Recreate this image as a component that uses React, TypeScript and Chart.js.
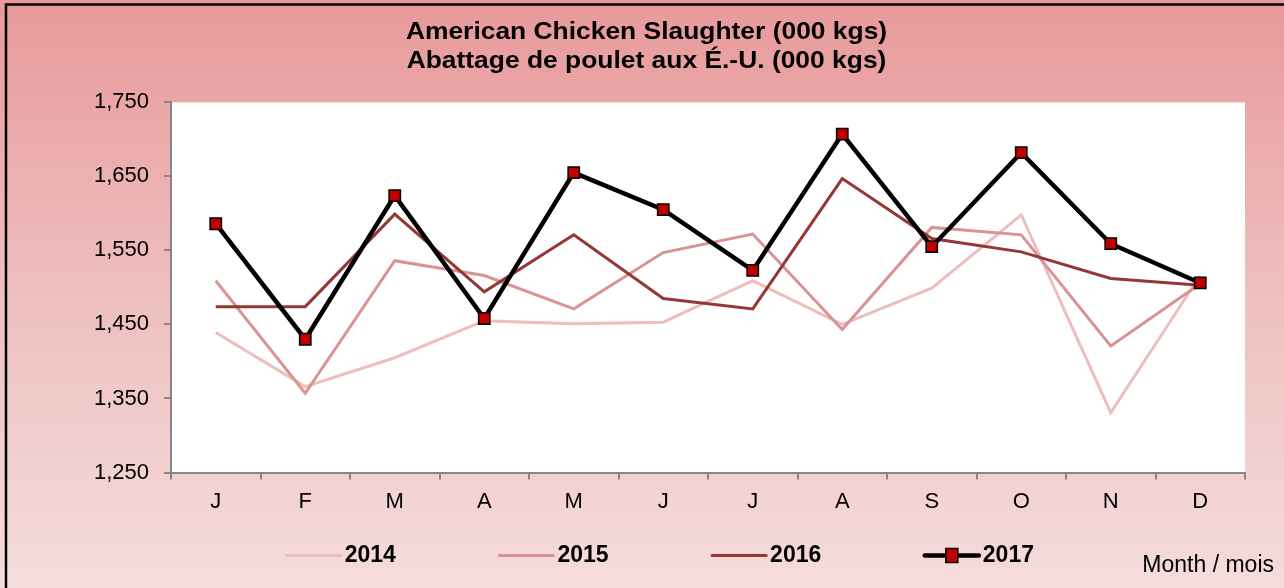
import React, { useEffect, useRef } from "react";
import { Chart, registerables } from "chart.js";

Chart.register(...registerables);

const months = ["J", "F", "M", "A", "M", "J", "J", "A", "S", "O", "N", "D"];
const years = ["2014", "2015", "2016", "2017"];
const s2014 = [1439, 1366, 1405, 1455, 1451, 1453, 1509, 1450, 1499, 1598, 1331, 1516];
const s2015 = [1509, 1357, 1536, 1516, 1471, 1547, 1572, 1443, 1581, 1571, 1421, 1505];
const s2016 = [1474, 1474, 1599, 1494, 1571, 1485, 1471, 1647, 1566, 1548, 1512, 1503];
const s2017 = [1586, 1430, 1624, 1458, 1655, 1605, 1523, 1707, 1555, 1682, 1559, 1506];
const titleLines = ["American Chicken Slaughter (000 kgs)", "Abattage de poulet aux É.-U. (000 kgs)"];
const xAxisTitle = "Month / mois";
const yMin = 1250;
const yMax = 1750;
const yStep = 100;

const FONT = '"Liberation Sans", Arial, sans-serif';
const W = 1284;
const H = 588;

const decorPlugin = {
  id: "decor",
  beforeDraw(chart: any) {
    const ctx = chart.ctx;
    const ca = chart.chartArea;
    ctx.save();
    const g = ctx.createLinearGradient(0, 0, 0, H);
    g.addColorStop(0, "#E8999A");
    g.addColorStop(0.5, "#EEBFBF");
    g.addColorStop(1, "#F5DCDC");
    ctx.fillStyle = g;
    ctx.fillRect(0, 0, W, H);
    ctx.strokeStyle = "#000";
    ctx.lineWidth = 2.5;
    ctx.strokeRect(6, 4.5, W + 20, H + 20);
    ctx.fillStyle = "#FFFFFF";
    ctx.fillRect(ca.left, ca.top, ca.right - ca.left, ca.bottom - ca.top);
    ctx.restore();
  },
  afterDraw(chart: any) {
    const ctx = chart.ctx;
    ctx.save();
    // title
    ctx.fillStyle = "#000";
    ctx.font = `bold 24px ${FONT}`;
    ctx.textAlign = "center";
    ctx.textBaseline = "alphabetic";
    const baselines = [38.7, 68];
    titleLines.forEach((t, i) => {
      ctx.save();
      ctx.translate(646.5, baselines[i]);
      ctx.scale(1.1, 1);
      ctx.fillText(t, 0, 0);
      ctx.restore();
    });
    // legend
    const ly = 555.5;
    chart.data.datasets.forEach((ds: any, i: number) => {
      const x0 = 286.7 + i * 212.7;
      ctx.strokeStyle = ds.borderColor;
      ctx.lineWidth = ds.borderWidth;
      ctx.lineCap = "round";
      ctx.beginPath();
      ctx.moveTo(x0, ly);
      ctx.lineTo(x0 + 54, ly);
      ctx.stroke();
      if (ds.pointRadius > 0) {
        const s = 6;
        ctx.fillStyle = ds.pointBackgroundColor;
        ctx.fillRect(x0 + 27 - s, ly - s - 1, 2 * s, 2 * s + 2);
        ctx.strokeStyle = ds.pointBorderColor;
        ctx.lineWidth = 1.5;
        ctx.strokeRect(x0 + 27 - s, ly - s - 1, 2 * s, 2 * s + 2);
      }
      ctx.fillStyle = "#000";
      ctx.font = `bold 23px ${FONT}`;
      ctx.textAlign = "left";
      ctx.textBaseline = "middle";
      ctx.fillText(ds.label, x0 + 58, ly + 0.5);
    });
    // x axis title
    ctx.font = `23px ${FONT}`;
    ctx.textAlign = "right";
    ctx.textBaseline = "middle";
    ctx.fillStyle = "#000";
    ctx.fillText(xAxisTitle, 1274, 565.5);
    ctx.restore();
  },
};

export default function App() {
  const ref = useRef<HTMLCanvasElement>(null);
  useEffect(() => {
    if (!ref.current) return;
    const axisColor = "#878787";
    const chart = new Chart(ref.current, {
      type: "line",
      data: {
        labels: months,
        datasets: [
          { label: years[0], data: s2014, borderColor: "#ECBEBE", backgroundColor: "#ECBEBE", borderWidth: 3, pointRadius: 0, order: 4 },
          { label: years[1], data: s2015, borderColor: "#DA9393", backgroundColor: "#DA9393", borderWidth: 3, pointRadius: 0, order: 3 },
          { label: years[2], data: s2016, borderColor: "#953735", backgroundColor: "#953735", borderWidth: 3, pointRadius: 0, order: 2 },
          {
            label: years[3], data: s2017, borderColor: "#000000", backgroundColor: "#C00000", borderWidth: 4.5,
            pointStyle: "rect", pointRadius: 8, pointBackgroundColor: "#C00000", pointBorderColor: "#000000", pointBorderWidth: 1.5, order: 1,
          },
        ] as any,
      },
      options: {
        animation: false,
        responsive: false,
        devicePixelRatio: 1,
        layout: { padding: { left: 0, top: 102.3, right: 39, bottom: 0 } },
        plugins: { legend: { display: false }, title: { display: false }, tooltip: { enabled: false } },
        elements: { line: { tension: 0 } },
        scales: {
          x: {
            offset: true,
            grid: { offset: true, drawOnChartArea: false, drawTicks: true, tickLength: 7, color: axisColor, lineWidth: 2 },
            border: { display: true, color: axisColor, width: 2 },
            ticks: { color: "#000", font: { family: FONT, size: 22 }, padding: 9.3, autoSkip: false, maxRotation: 0 },
            afterFit: (s: any) => { s.height = H - 472.5; },
          },
          y: {
            min: yMin,
            max: yMax,
            ticks: {
              stepSize: yStep, color: "#000", font: { family: FONT, size: 22 }, padding: 15,
              callback: (v: any) => Number(v).toLocaleString("en-US"),
            },
            grid: { drawOnChartArea: false, drawTicks: true, tickLength: 7, color: axisColor, lineWidth: 2 },
            border: { display: true, color: axisColor, width: 2 },
            afterFit: (s: any) => { s.width = 171; },
          },
        },
      } as any,
      plugins: [decorPlugin],
    });
    return () => chart.destroy();
  }, []);
  return (
    <div style={{ position: "absolute", left: 0, top: 0, width: W, height: H }}>
      <canvas ref={ref} width={W} height={H} style={{ width: W, height: H, display: "block" }} />
    </div>
  );
}
